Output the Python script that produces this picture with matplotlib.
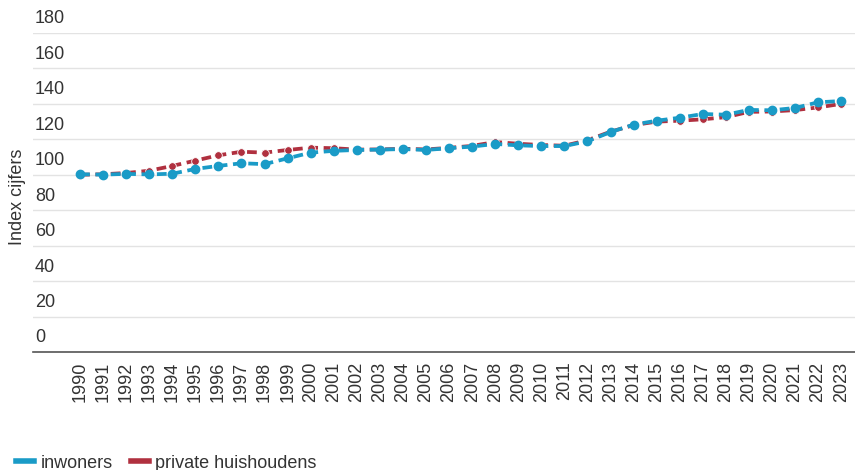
import matplotlib
matplotlib.use("Agg")
import matplotlib.pyplot as plt
from matplotlib.lines import Line2D

# data
jaren = list(range(1990, 2024))
inwoners = [100.3, 100.1, 100.5, 100.2, 100.6, 103.3, 105.0, 106.5, 106.0, 109.3,
            112.5, 113.5, 114.0, 114.2, 114.5, 114.0, 115.0, 115.9, 117.4, 116.6,
            116.2, 116.2, 118.9, 124.1, 128.3, 130.5, 132.2, 134.3, 133.9, 136.6,
            136.4, 137.7, 140.9, 141.6]
huishoudens = [100.0, 100.3, 101.0, 102.3, 105.0, 108.0, 111.0, 113.0, 112.5, 114.0,
               115.3, 115.0, 114.2, 114.3, 114.7, 114.3, 115.2, 116.3, 118.5, 117.5,
               116.8, 116.4, 119.5, 124.3, 128.0, 130.0, 130.5, 131.3, 132.5, 135.5,
               135.7, 136.5, 138.0, 140.0]
y_ticks = [0, 20, 40, 60, 80, 100, 120, 140, 160, 180]

blauw = "#1a9bc7"
rood = "#b0303f"
tekst = "#333333"

plt.rcParams['font.family'] = ['Liberation Sans', 'DejaVu Sans']

fig = plt.figure(figsize=(8.55, 4.7), dpi=100)
ax = fig.add_axes([33 / 855, 1 - 352 / 470, 822 / 855, (352 - 33) / 470])

ax.plot(jaren, huishoudens, color=rood, lw=2.7, dashes=(2.6, 1.5),
        marker='o', ms=5.5, mfc=rood, mec='white', mew=0.6, label='private huishoudens', zorder=3)
ax.plot(jaren, inwoners, color=blauw, lw=2.7, dashes=(2.6, 1.5),
        marker='o', ms=6, mfc=blauw, mec=blauw, label='inwoners', zorder=4)

ax.set_ylim(0, 180)
ax.set_xlim(1987.96, 2023.6)
ax.set_yticks(y_ticks)
ax.set_yticklabels([])
ax.tick_params(axis='y', length=0)
ax.grid(axis='y', color='#e3e3e3', lw=1)
ax.set_axisbelow(True)

for v in y_ticks:
    ax.annotate(str(v), xy=(0, v), xycoords=ax.get_yaxis_transform(),
                xytext=(1.5, 4), textcoords='offset points',
                ha='left', va='bottom', fontsize=13, color=tekst)

ax.set_xticks(jaren)
ax.set_xticklabels([str(j) for j in jaren], rotation=90, fontsize=13, color=tekst)
ax.tick_params(axis='x', length=0, pad=7)

for s in ['top', 'right', 'left']:
    ax.spines[s].set_visible(False)
ax.spines['bottom'].set_color('#555555')
ax.spines['bottom'].set_linewidth(1.2)

fig.text(18 / 855, 1 - 197 / 470, 'Index cijfers', rotation=90, ha='center', va='center',
         fontsize=13, color=tekst)

h_blauw = Line2D([], [], color=blauw, lw=4)
h_rood = Line2D([], [], color=rood, lw=4)
fig.legend([h_blauw, h_rood], ['inwoners', 'private huishoudens'],
           loc='lower left', bbox_to_anchor=(0.0, -0.038), ncol=2, frameon=False,
           fontsize=13, handlelength=1.0, handletextpad=0.35, columnspacing=1.0,
           labelcolor=tekst)

fig.savefig('out.png', dpi=100)
